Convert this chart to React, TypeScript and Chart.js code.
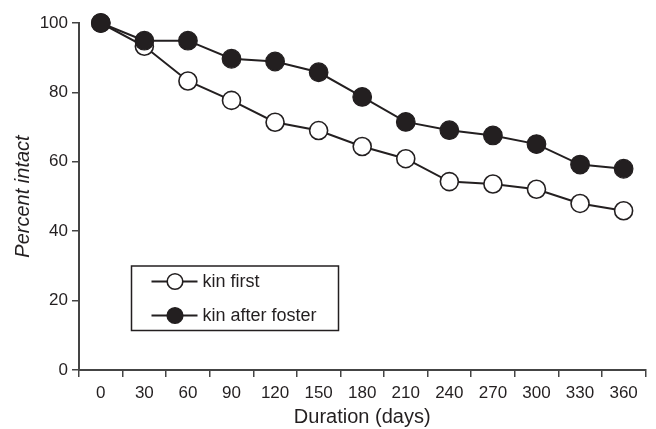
import React, { useEffect, useRef } from "react";
import { Chart, registerables } from "chart.js";

Chart.register(...registerables);

const durations = ["0", "30", "60", "90", "120", "150", "180", "210", "240", "270", "300", "330", "360"];
const kinFirst = [100, 93.3, 83.3, 77.7, 71.4, 69.0, 64.4, 60.9, 54.3, 53.6, 52.1, 48.0, 45.9];
const kinAfterFoster = [100, 94.9, 94.9, 89.7, 88.9, 85.8, 78.7, 71.5, 69.1, 67.6, 65.1, 59.2, 58.0];
const yTicks = [0, 20, 40, 60, 80, 100];

const INK = "#231f20";
const AXIS = "#444444";
const FONT = "'Liberation Sans', Arial, Helvetica, sans-serif";

const boxLegend = {
  id: "boxLegend",
  afterDraw(chart: any) {
    const { ctx, chartArea } = chart;
    const x0 = chartArea.left + 52.5;
    const y0 = chartArea.top + 243;
    const w = 207;
    const h = 64.5;
    ctx.save();
    ctx.lineWidth = 1.5;
    ctx.strokeStyle = INK;
    ctx.strokeRect(x0, y0, w, h);
    chart.data.datasets.forEach((ds: any, i: number) => {
      const cy = y0 + 15.5 + i * 34;
      const lx1 = x0 + 20;
      const lx2 = x0 + 66;
      const cx = x0 + 43.5;
      ctx.beginPath();
      ctx.lineWidth = 2;
      ctx.strokeStyle = INK;
      ctx.moveTo(lx1, cy);
      ctx.lineTo(lx2, cy);
      ctx.stroke();
      ctx.beginPath();
      ctx.arc(cx, cy, 7.8, 0, Math.PI * 2);
      ctx.fillStyle = ds.pointBackgroundColor;
      ctx.fill();
      ctx.lineWidth = 1.6;
      ctx.stroke();
      ctx.fillStyle = INK;
      ctx.font = `18px ${FONT}`;
      ctx.textBaseline = "middle";
      ctx.textAlign = "left";
      ctx.fillText(ds.label, x0 + 71, cy + 1);
    });
    ctx.restore();
  },
};

export default function App() {
  const ref = useRef<HTMLCanvasElement | null>(null);
  useEffect(() => {
    document.body.style.margin = "0";
    const canvas = ref.current!;
    const chart = new Chart(canvas, {
      type: "line",
      data: {
        labels: durations,
        datasets: [
          {
            label: "kin first",
            data: kinFirst,
            order: 1,
            borderColor: INK,
            borderWidth: 2,
            pointRadius: 9,
            pointBorderWidth: 1.6,
            pointBackgroundColor: "#ffffff",
            pointBorderColor: INK,
            clip: false as any,
          },
          {
            label: "kin after foster",
            data: kinAfterFoster,
            order: 0,
            borderColor: INK,
            borderWidth: 2,
            pointRadius: 9.3,
            pointBorderWidth: 1.2,
            pointBackgroundColor: INK,
            pointBorderColor: INK,
            clip: false as any,
          },
        ],
      },
      options: {
        animation: false,
        responsive: false,
        layout: { padding: { left: 0, top: 23, right: 9, bottom: 0 } },
        plugins: { legend: { display: false }, tooltip: { enabled: false } },
        scales: {
          x: {
            type: "category",
            offset: true,
            grid: { display: true, offset: true, drawOnChartArea: false, drawTicks: true, tickLength: 7, color: AXIS, lineWidth: 1.5 },
            border: { display: true, color: AXIS, width: 2 },
            ticks: { color: INK, font: { family: FONT, size: 17 }, padding: 6, maxRotation: 0, autoSkip: false },
            title: { display: true, text: "Duration (days)", color: INK, font: { family: FONT, size: 20 }, padding: { top: 0, bottom: 0 } },
            afterFit: (s: any) => { s.height = 59; },
          },
          y: {
            min: 0,
            max: 100,
            afterBuildTicks: (s: any) => { s.ticks = yTicks.map((v) => ({ value: v })); },
            grid: { display: true, drawOnChartArea: false, drawTicks: true, tickLength: 7, color: AXIS, lineWidth: 1.5 },
            border: { display: true, color: AXIS, width: 2 },
            ticks: { color: INK, font: { family: FONT, size: 17 }, padding: 4 },
            title: { display: true, text: "Percent intact", color: INK, font: { family: FONT, size: 20, style: "italic" }, padding: { top: 11, bottom: 0 } },
            afterFit: (s: any) => { s.width = 79; },
          },
        },
      },
      plugins: [boxLegend],
    });
    return () => chart.destroy();
  }, []);
  return (
    <div style={{ width: 656, height: 429, background: "#fff" }}>
      <canvas ref={ref} width={656} height={429} />
    </div>
  );
}
